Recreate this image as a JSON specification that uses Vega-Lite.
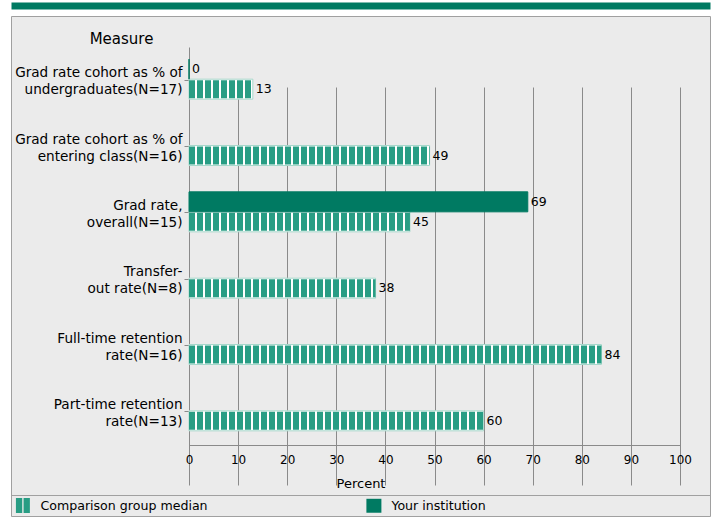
{
  "$schema": "https://vega.github.io/schema/vega-lite/v6.json",
  "width": 699,
  "height": 500,
  "autosize": {"type": "none"},
  "padding": {"left": 11, "top": 16, "right": 7, "bottom": 2},
  "background": "#FFFFFF",
  "config": {
    "view": {"fill": "#EBEBEB", "stroke": "#A0A0A0", "strokeWidth": 1},
    "font": "DejaVu Sans",
    "axis": {
      "labelFont": "DejaVu Sans",
      "titleFont": "DejaVu Sans",
      "labelColor": "#000000",
      "titleColor": "#000000",
      "titleFontWeight": "normal",
      "domainColor": "#8A8A8A",
      "tickColor": "#8A8A8A",
      "gridColor": "#8A8A8A",
      "gridOpacity": 1
    }
  },
  "data": {
    "values": [
      {"measure": "Grad rate cohort as % of\nundergraduates(N=17)", "series": "Comparison group median", "value": 13},
      {"measure": "Grad rate cohort as % of\nentering class(N=16)", "series": "Comparison group median", "value": 49},
      {"measure": "Grad rate,\noverall(N=15)", "series": "Comparison group median", "value": 45},
      {"measure": "Transfer-\nout rate(N=8)", "series": "Comparison group median", "value": 38},
      {"measure": "Full-time retention\nrate(N=16)", "series": "Comparison group median", "value": 84},
      {"measure": "Part-time retention\nrate(N=13)", "series": "Comparison group median", "value": 60},
      {"measure": "Grad rate cohort as % of\nundergraduates(N=17)", "series": "Your institution", "value": 0},
      {"measure": "Grad rate,\noverall(N=15)", "series": "Your institution", "value": 69}
    ]
  },
  "layer": [
    {
      "encoding": {
        "y": {
          "field": "measure",
          "type": "nominal",
          "sort": null,
          "scale": {"range": [31, 429], "paddingInner": 0, "paddingOuter": 0},
          "axis": {
            "orient": "left",
            "offset": -178,
            "grid": false,
            "domain": true,
            "ticks": true,
            "tickSize": 5,
            "labelPadding": 2,
            "labelFontSize": 13.6,
            "labelLineHeight": 17,
            "labelAlign": "right",
            "labelBaseline": "alphabetic",
            "labelOffset": -3,
            "labelLimit": 300,
            "labelExpr": "split(datum.value, '\\n')",
            "title": "Measure",
            "titleAngle": 0,
            "titleFontSize": 15,
            "titleAlign": "center",
            "titleBaseline": "alphabetic",
            "titleX": -68,
            "titleY": 27
          }
        },
        "x": {
          "field": "value",
          "type": "quantitative",
          "scale": {"domain": [0, 100], "range": [178, 669], "nice": false, "zero": true},
          "axis": {
            "orient": "bottom",
            "offset": -71,
            "tickCount": 10,
            "grid": true,
            "tickSize": 4,
            "labelPadding": 5,
            "labelFontSize": 12,
            "labelFlush": false,
            "labelAlign": "center",
            "title": "Percent",
            "titleFontSize": 13,
            "titleAlign": "center",
            "titleBaseline": "alphabetic",
            "titleX": 349.5,
            "titleY": 42
          }
        }
      },
      "layer": [
        {
          "transform": [{"filter": "datum.series == 'Comparison group median'"}],
          "mark": {"type": "point", "filled": true, "opacity": 1, "size": 225, "yOffset": 9, "xOffset": -12, "strokeWidth": 0},
          "encoding": {
            "color": {
              "field": "series",
              "type": "nominal",
              "scale": {"domain": ["Comparison group median", "Your institution"], "range": ["#289D84", "#007A62"]},
              "legend": {
                "title": null,
                "orient": "none",
                "legendX": 4.4,
                "legendY": 482,
                "direction": "horizontal",
                "columns": 2,
                "columnPadding": 158,
                "padding": 0,
                "symbolSize": 225,
                "symbolStrokeWidth": 0,
                "symbolOpacity": 1,
                "labelOffset": 10,
                "labelFontSize": 12.6,
                "labelFont": "DejaVu Sans",
                "labelColor": "#000000",
                "labelLimit": 300
              }
            },
            "shape": {
              "field": "series",
              "type": "nominal",
              "scale": {"domain": ["Comparison group median", "Your institution"], "range": ["M-0.93,-1H-0.09V1H-0.93Z M0.09,-1H0.93V1H0.09Z", "M-1,-0.93H1V0.93H-1Z"]},
              "legend": {
                "title": null,
                "orient": "none",
                "legendX": 4.4,
                "legendY": 482,
                "direction": "horizontal",
                "columns": 2,
                "columnPadding": 158,
                "padding": 0,
                "symbolSize": 225,
                "symbolStrokeWidth": 0,
                "symbolOpacity": 1,
                "labelOffset": 10,
                "labelFontSize": 12.6,
                "labelFont": "DejaVu Sans",
                "labelColor": "#000000",
                "labelLimit": 300
              }
            }
          }
        },
        {
          "transform": [{"filter": "datum.series == 'Comparison group median'"}],
          "mark": {"type": "bar", "height": 20, "yOffset": 9, "fill": "#FFFFFF", "stroke": "#A6D8CB", "strokeWidth": 1},
          "encoding": {}
        },
        {
          "transform": [{"filter": "datum.series == 'Comparison group median'"}],
          "mark": {"type": "rule", "strokeWidth": 18, "strokeDash": [6, 2], "strokeCap": "butt", "yOffset": 9, "color": "#289D84"},
          "encoding": {
            "x": {"datum": 0},
            "x2": {"field": "value"}
          }
        },
        {
          "transform": [{"filter": "datum.series == 'Your institution'"}],
          "mark": {"type": "bar", "height": 20, "yOffset": -11, "fill": "#007A62", "stroke": "#007A62", "strokeWidth": 1},
          "encoding": {}
        },
        {
          "transform": [{"filter": "datum.series == 'Comparison group median'"}],
          "mark": {"type": "text", "align": "left", "baseline": "middle", "dx": 3, "yOffset": 9, "fontSize": 12.5, "color": "#000000"},
          "encoding": {"text": {"field": "value", "type": "quantitative"}}
        },
        {
          "transform": [{"filter": "datum.series == 'Your institution'"}],
          "mark": {"type": "text", "align": "left", "baseline": "middle", "dx": 3, "yOffset": -11, "fontSize": 12.5, "color": "#000000"},
          "encoding": {"text": {"field": "value", "type": "quantitative"}}
        }
      ]
    },
    {
      "mark": {"type": "rule", "opacity": 0},
      "encoding": {
        "x": {
          "field": "value",
          "type": "quantitative",
          "scale": {"domain": [0, 100], "range": [0, 699], "nice": false},
          "axis": {"orient": "top", "offset": 10.5, "domainColor": "#007A62", "domainWidth": 7, "ticks": false, "labels": false, "grid": false, "title": null}
        }
      }
    },
    {
      "mark": {"type": "rule", "opacity": 0},
      "encoding": {
        "x": {
          "field": "value",
          "type": "quantitative",
          "scale": {"domain": [0, 100], "range": [0, 699], "nice": false},
          "axis": {"orient": "bottom", "offset": -21, "domainColor": "#A0A0A0", "domainWidth": 1, "ticks": false, "labels": false, "grid": false, "title": null}
        }
      }
    }
  ],
  "resolve": {"scale": {"x": "independent"}, "axis": {"x": "independent"}}
}
